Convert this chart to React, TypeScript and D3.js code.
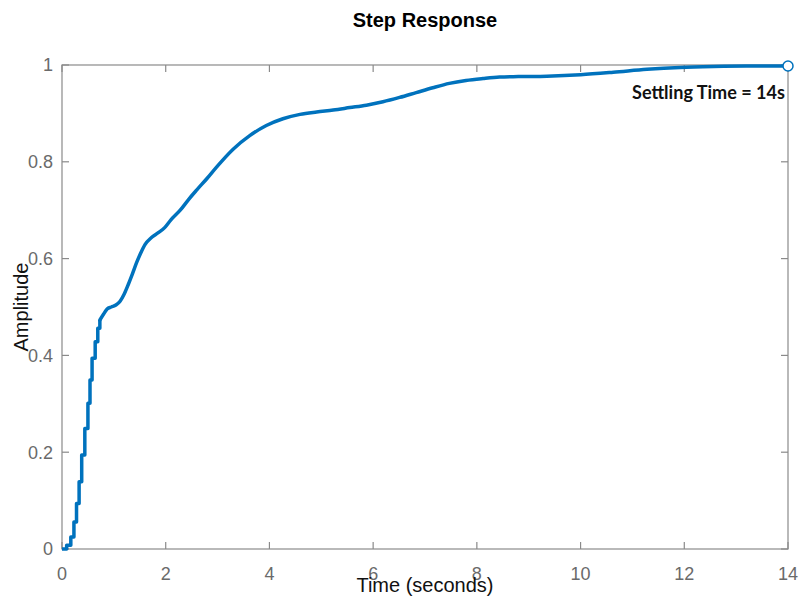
import React from "react";
import * as d3 from "d3";

// Staircase portion of the response (held sample values)
const stepTimes = [0, 0.09, 0.17, 0.23, 0.28, 0.33, 0.38, 0.44, 0.5, 0.54, 0.58, 0.64, 0.69, 0.73];
const stepValues = [0, 0.008, 0.025, 0.056, 0.094, 0.139, 0.194, 0.249, 0.301, 0.349, 0.394, 0.428, 0.456, 0.473];

// Smooth portion of the response
const smoothTimes = [
  0.73, 0.8, 0.87, 0.95, 1.04, 1.12, 1.2, 1.28, 1.36, 1.44, 1.52, 1.6, 1.72, 1.85, 1.98, 2.1, 2.28,
  2.44, 2.6, 2.8, 2.98, 3.3, 3.62, 3.94, 4.26, 4.59, 4.91, 5.23, 5.55, 5.87, 6.19, 6.51, 6.83, 7.15,
  7.47, 7.79, 8.12, 8.44, 8.8, 9.35, 10.0, 10.63, 11.28, 11.92, 12.56, 13.2, 14.0,
];
const smoothValues = [
  0.473, 0.485, 0.496, 0.5, 0.504, 0.512, 0.527, 0.547, 0.569, 0.592, 0.612, 0.629, 0.643, 0.653,
  0.664, 0.68, 0.7, 0.722, 0.742, 0.766, 0.789, 0.826, 0.854, 0.875, 0.889, 0.898, 0.903, 0.907,
  0.912, 0.917, 0.924, 0.933, 0.943, 0.953, 0.962, 0.968, 0.972, 0.975, 0.976, 0.977, 0.98, 0.985,
  0.991, 0.995, 0.997, 0.998, 0.998,
];

const xTicks = [0, 2, 4, 6, 8, 10, 12, 14];
const yTicks = [0, 0.2, 0.4, 0.6, 0.8, 1];
const settlingTime = 14;
const titleText = "Step Response";
const xLabel = "Time (seconds)";
const yLabel = "Amplitude";
const annotation = "Settling Time = 14s";

const W = 799;
const H = 601;
const left = 62;
const right = 788;
const top = 65;
const bottom = 549;

const BLUE = "#0072BD";
const AXIS = "#8a8a8a";
const TICKTXT = "#6a6a6a";
const FONT = "'Liberation Sans', Arial, Helvetica, sans-serif";

export default function App() {
  const x = d3.scaleLinear().domain([0, 14]).range([left, right]);
  const y = d3.scaleLinear().domain([0, 1]).range([bottom, top]);

  const stepPts: [number, number][] = stepTimes.map((t, i) => [t, stepValues[i]]);
  const smoothPts: [number, number][] = smoothTimes.map((t, i) => [t, smoothValues[i]]);

  const stepLine = d3
    .line<[number, number]>()
    .x((d) => x(d[0]))
    .y((d) => y(d[1]))
    .curve(d3.curveStepAfter);
  const smoothLine = d3
    .line<[number, number]>()
    .x((d) => x(d[0]))
    .y((d) => y(d[1]))
    .curve(d3.curveMonotoneX);

  const endIdx = smoothTimes.length - 1;
  const endX = x(settlingTime);
  const endY = y(smoothValues[endIdx]);
  const tickLen = 7;

  return (
    <svg
      width={W}
      height={H}
      viewBox={`0 0 ${W} ${H}`}
      style={{ position: "fixed", left: 0, top: 0, display: "block", background: "#fff" }}
    >
      <rect x={0} y={0} width={W} height={H} fill="#fff" />

      {/* axes box */}
      <rect
        x={left}
        y={top}
        width={right - left}
        height={bottom - top}
        fill="none"
        stroke={AXIS}
        strokeWidth={1.2}
      />

      {/* x ticks (bottom and top, inward) */}
      {xTicks.map((t) => (
        <g key={`xt${t}`}>
          <line x1={x(t)} x2={x(t)} y1={bottom} y2={bottom - tickLen} stroke={AXIS} strokeWidth={1.2} />
          <line x1={x(t)} x2={x(t)} y1={top} y2={top + tickLen} stroke={AXIS} strokeWidth={1.2} />
          <text
            x={x(t)}
            y={580}
            textAnchor="middle"
            fontFamily={FONT}
            fontSize={18}
            fill={TICKTXT}
          >
            {t}
          </text>
        </g>
      ))}

      {/* y ticks (left and right, inward) */}
      {yTicks.map((v) => (
        <g key={`yt${v}`}>
          <line x1={left} x2={left + tickLen} y1={y(v)} y2={y(v)} stroke={AXIS} strokeWidth={1.2} />
          <line x1={right} x2={right - tickLen} y1={y(v)} y2={y(v)} stroke={AXIS} strokeWidth={1.2} />
          <text
            x={53}
            y={y(v)}
            dy="0.35em"
            textAnchor="end"
            fontFamily={FONT}
            fontSize={18}
            fill={TICKTXT}
          >
            {v}
          </text>
        </g>
      ))}

      {/* response curve */}
      <path d={stepLine(stepPts) || ""} fill="none" stroke={BLUE} strokeWidth={3.5} strokeLinejoin="round" />
      <path d={smoothLine(smoothPts) || ""} fill="none" stroke={BLUE} strokeWidth={3.5} strokeLinejoin="round" strokeLinecap="round" />

      {/* settling point marker */}
      <circle cx={endX} cy={endY} r={5} fill="#fff" stroke={BLUE} strokeWidth={1.5} />

      {/* annotation */}
      <text
        x={632}
        y={99}
        fontFamily="Lato, 'Open Sans', sans-serif"
        fontWeight="bold"
        fontSize={18}
        textLength={153}
        lengthAdjust="spacingAndGlyphs"
        fill="#111"
      >
        {annotation}
      </text>

      {/* title and axis labels */}
      <text x={(left + right) / 2} y={27} textAnchor="middle" fontFamily={FONT} fontWeight="bold" fontSize={20} fill="#000">
        {titleText}
      </text>
      <text x={(left + right) / 2} y={592} textAnchor="middle" fontFamily={FONT} fontSize={20} fill="#111">
        {xLabel}
      </text>
      <text
        transform={`translate(28, ${(top + bottom) / 2}) rotate(-90)`}
        textAnchor="middle"
        fontFamily={FONT}
        fontSize={20}
        fill="#111"
      >
        {yLabel}
      </text>
    </svg>
  );
}
